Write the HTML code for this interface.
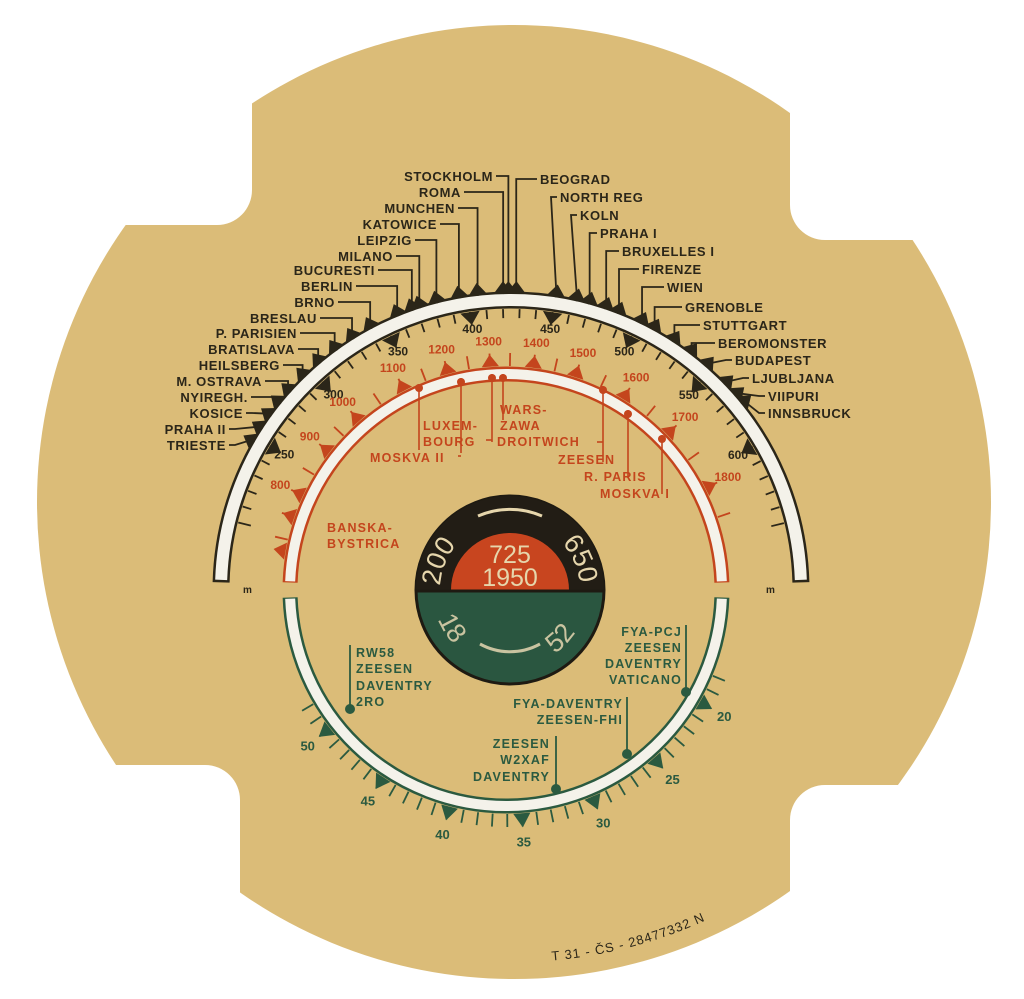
<!DOCTYPE html>
<html><head><meta charset="utf-8"><style>
html,body{margin:0;padding:0;background:#fff;}
svg{display:block;}
text{font-family:"Liberation Sans",sans-serif;}
</style></head><body>
<svg id="s" width="1024" height="999" viewBox="0 0 1024 999" xmlns="http://www.w3.org/2000/svg">
<defs>
<mask id="m">
<circle cx="514" cy="502" r="477" fill="#fff"/>
<rect x="-200" y="-200" width="452" height="425" rx="35" fill="#000"/>
<rect x="790" y="-200" width="500" height="440" rx="35" fill="#000"/>
<rect x="-200" y="765" width="440" height="500" rx="35" fill="#000"/>
<rect x="790" y="785" width="500" height="500" rx="35" fill="#000"/>
</mask>
<path id="tp" d="M 440 590 A 70 70 0 0 1 580 590"/>
<path id="bp" d="M 432 590 A 78 78 0 0 0 588 590"/>
<path id="sp" d="M 473.9 960.2 A 460 460 0 0 0 777.8 879.1"/>
</defs>
<rect x="0" y="0" width="1024" height="999" fill="#fff"/>
<rect x="0" y="0" width="1024" height="999" fill="#dbbc78" mask="url(#m)"/>
<g id="g"></g>
<circle cx="510" cy="590" r="94" fill="#2a5640" stroke="#1e1a12" stroke-width="3"/>
<path d="M 416 590 A 94 94 0 0 1 604 590 Z" fill="#221d15"/>
<path d="M 451 590 A 59 57 0 0 1 569 590 Z" fill="#c8451f"/>
<line x1="416" y1="591" x2="604" y2="591" stroke="#1e1a12" stroke-width="3"/>
<text x="510" y="563" text-anchor="middle" font-size="25" fill="#e6d6ac">725</text>
<text x="510" y="586" text-anchor="middle" font-size="25" fill="#e6d6ac">1950</text>
<text font-size="27" fill="#e6d6ac"><textPath href="#tp" startOffset="4">200</textPath></text>
<text font-size="27" fill="#e6d6ac"><textPath href="#tp" startOffset="168">650</textPath></text>
<path d="M 478 516 A 80 80 0 0 1 542 516" fill="none" stroke="#e6d6ac" stroke-width="3"/>
<text font-size="27" fill="#c9c3a0"><textPath href="#bp" startOffset="30">18</textPath></text>
<text font-size="27" fill="#c9c3a0"><textPath href="#bp" startOffset="170">52</textPath></text>
<path d="M 480 644 A 62 62 0 0 0 540 644" fill="none" stroke="#c9c3a0" stroke-width="3"/>
<text font-size="13" fill="#2b2619" letter-spacing="1"><textPath href="#sp" startOffset="78">T 31 - ČS - 28477332 N</textPath></text>
</svg>
<script>
var g=document.getElementById('g');var h='';
var D='#2b2619',R='#c4451d',G='#2b5a40',W='#f4f2ea';
function P(cx,cy,r,a){a=a*Math.PI/180;return [cx+r*Math.cos(a),cy-r*Math.sin(a)];}
function arc(cx,cy,r,a1,a2,st,w){var p=P(cx,cy,r,a1),q=P(cx,cy,r,a2);var large=Math.abs(a2-a1)>180?1:0;var sw=a2<a1?1:0;
h+='<path d="M'+p[0]+' '+p[1]+' A'+r+' '+r+' 0 '+large+' '+sw+' '+q[0]+' '+q[1]+'" fill="none" stroke="'+st+'" stroke-width="'+w+'"/>';}
function ln(a,b,c,d,col,w){h+='<line x1="'+a+'" y1="'+b+'" x2="'+c+'" y2="'+d+'" stroke="'+col+'" stroke-width="'+(w||1.6)+'"/>';}
function tick(cx,cy,r1,r2,a,col,w){var p=P(cx,cy,r1,a),q=P(cx,cy,r2,a);ln(p[0],p[1],q[0],q[1],col,w);}
function tri(cx,cy,rb,rt,a,hw,col){var b1=P(cx,cy,rb,a+hw),b2=P(cx,cy,rb,a-hw),t=P(cx,cy,rt,a);
h+='<polygon points="'+b1+' '+b2+' '+t+'" fill="'+col+'"/>';}
function tx(x,y,s,col,sz,anc,extra){h+='<text x="'+x+'" y="'+y+'" fill="'+col+'" font-size="'+(sz||13)+'" font-weight="bold" text-anchor="'+(anc||'start')+'" '+(extra||'')+'>'+s+'</text>';}
var OX=511,OY=590;
arc(OX,OY,290,1.5,178.5,D,17);arc(OX,OY,290,2,178,W,12);
function am(m){return 98.4-(m-400)*0.3385;}
for(var m=200;m<=650;m+=10){var a=am(m);tick(OX,OY,281,(m%50==0)?268:272,a,D,1.8);}
[250,300,350,400,450,500,550,600].forEach(function(m){var a=am(m);tri(OX,OY,281,268,a,2,D);var p=P(OX,OY,264,a);tx(p[0],p[1]+4,m,D,12,'middle');});
tx(243,593,'m',D,10);tx(766,593,'m',D,10);
var L=[['STOCKHOLM',493,181,90.5],['ROMA',461,197,91.5],['MUNCHEN',455,213,96.4],['KATOWICE',437,229,100],['LEIPZIG',412,245,104.4],['MILANO',393,261,107.8],['BUCURESTI',375,275,109.3],['BERLIN',353,291,112.3],['BRNO',335,307,118],['BRESLAU',317,323,122],['P. PARISIEN',297,338,126],['BRATISLAVA',295,354,130],['HEILSBERG',280,370,134],['M. OSTRAVA',262,386,138],['NYIREGH.',248,402,141],['KOSICE',243,418,144],['PRAHA II',226,434,147],['TRIESTE',226,450,150]];
L.forEach(function(s){tx(s[1],s[2],s[0],D,13,'end','letter-spacing="0.6"');var p=P(OX,OY,300,s[3]);var y=s[2]-5;
if(p[0]>s[1]+6&&p[1]>y+4){h+='<polyline points="'+(s[1]+3)+','+y+' '+p[0]+','+y+' '+p[0]+','+p[1]+'" fill="none" stroke="'+D+'" stroke-width="1.8"/>';}
else{h+='<polyline points="'+(s[1]+3)+','+y+' '+(s[1]+9)+','+y+' '+p[0]+','+p[1]+'" fill="none" stroke="'+D+'" stroke-width="1.8"/>';}
tri(OX,OY,297,309,s[3],1.8,D);h+='<circle cx="'+p[0]+'" cy="'+p[1]+'" r="4" fill="'+D+'"/>';});
var Rr=[['BEOGRAD',540,184,89],['NORTH REG',560,202,81.3],['KOLN',580,220,77.3],['PRAHA I',600,238,74.8],['BRUXELLES I',622,256,71.5],['FIRENZE',642,274,68.9],['WIEN',667,292,64.1],['GRENOBLE',685,312,61.4],['STUTTGART',703,330,57],['BEROMONSTER',718,348,53],['BUDAPEST',735,365,49],['LJUBLJANA',752,383,44],['VIIPURI',768,401,41],['INNSBRUCK',768,418,39]];
Rr.forEach(function(s){tx(s[1],s[2],s[0],D,13,'start','letter-spacing="0.6"');var p=P(OX,OY,300,s[3]);var y=s[2]-5;
if(p[0]<s[1]-6&&p[1]>y+4){h+='<polyline points="'+(s[1]-3)+','+y+' '+p[0]+','+y+' '+p[0]+','+p[1]+'" fill="none" stroke="'+D+'" stroke-width="1.8"/>';}
else{h+='<polyline points="'+(s[1]-3)+','+y+' '+(s[1]-9)+','+y+' '+p[0]+','+p[1]+'" fill="none" stroke="'+D+'" stroke-width="1.8"/>';}
h+='<circle cx="'+p[0]+'" cy="'+p[1]+'" r="4" fill="'+D+'"/>';tri(OX,OY,297,309,s[3],1.8,D);});
var CX=506,CY=590;
arc(CX,CY,216,2,178,R,15);arc(CX,CY,216,2.3,177.7,W,10);
arc(CX,CY,216,-2,-178,G,15);arc(CX,CY,216,-2.3,-177.7,W,10);
var RT={700:167,750:161,800:155,850:149,900:142,950:136.5,1000:131,1050:124,1100:117,1150:111,1200:105,1250:99.5,1300:94,1350:89,1400:83,1450:77.5,1500:72,1550:65,1600:58.5,1650:51,1700:44,1750:35.5,1800:27,1850:19};
for(var f in RT){var a=RT[f];tick(CX,CY,224,237,a,R,1.8);if(f%100==0&&f>=800){tri(CX,CY,224,236,a,2.2,R);var p=P(CX,CY,249,a);tx(p[0],p[1]+4,f,R,12,'middle');}}
tri(CX,CY,224,236,161,2.2,R);
var rl=[['LUXEM-',423,430],['BOURG',423,446],['WARS-',500,414],['ZAWA',500,430],['DROITWICH',497,446],['MOSKVA II',370,462],['ZEESEN',558,464],['R. PARIS',584,481],['MOSKVA I',600,498],['BANSKA-',327,532],['BYSTRICA',327,548]];
rl.forEach(function(s){tx(s[1],s[2],s[0],R,12.5,'start','letter-spacing="1.2"');});
[[419,384,450],[461,378,453],[492,374,442],[503,374,420],[603,386,462],[628,410,478],[662,435,494]].forEach(function(v){ln(v[0],v[1],v[0],v[2],R,1.6);h+='<circle cx="'+v[0]+'" cy="'+(v[1]+4)+'" r="4" fill="'+R+'"/>';});
ln(486,440,492,440,R,1.6);ln(458,456,461,456,R,1.6);ln(597,442,603,442,R,1.6);
tri(CX,CY,224,236,170,2.2,R);
function ag(v){return -30-(v-20)*3.73;}
for(var v=18;v<=52;v++){var a=ag(v);tick(CX,CY,224,237,a,G,1.8);if(v%5==0){tri(CX,CY,224,238,a,2.2,G);var p=P(CX,CY,252,a);tx(p[0],p[1]+5,v,G,13,'middle');}}
var gl=[['RW58',356,657,'start'],['ZEESEN',356,673,'start'],['DAVENTRY',356,690,'start'],['2RO',356,706,'start'],['FYA-PCJ',682,636,'end'],['ZEESEN',682,652,'end'],['DAVENTRY',682,668,'end'],['VATICANO',682,684,'end'],['FYA-DAVENTRY',623,708,'end'],['ZEESEN-FHI',623,724,'end'],['ZEESEN',550,748,'end'],['W2XAF',550,764,'end'],['DAVENTRY',550,781,'end']];
gl.forEach(function(s){tx(s[1],s[2],s[0],G,12.5,s[3],'letter-spacing="1.2"');});
[[350,645,712],[686,625,695],[627,697,757],[556,736,792]].forEach(function(v){ln(v[0],v[1],v[0],v[2],G,1.8);h+='<circle cx="'+v[0]+'" cy="'+(v[2]-3)+'" r="5" fill="'+G+'"/>';});
g.innerHTML=h;
</script>
</body></html>
